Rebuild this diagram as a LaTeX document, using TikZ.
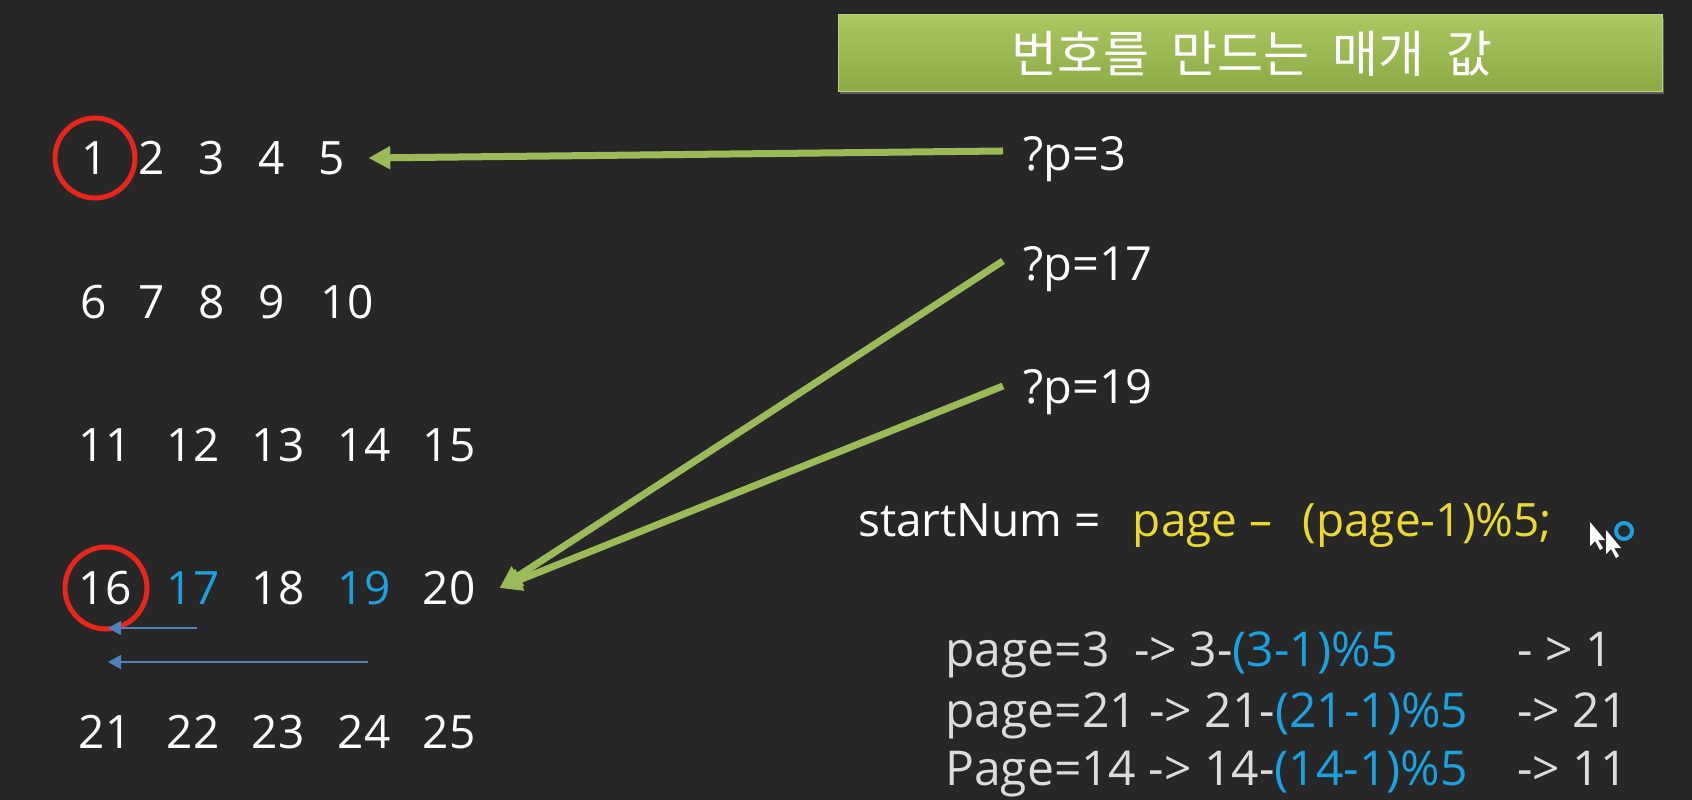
\documentclass[tikz,border=0pt]{standalone}
\usepackage{fontspec}
\setmainfont{Open Sans}
\newfontfamily\krfont{Noto Sans CJK KR}
\usetikzlibrary{arrows.meta,shadows}

\definecolor{slidebg}{HTML}{272727}
\definecolor{olive}{HTML}{9BBB59}
\definecolor{olivetop}{HTML}{AAC761}
\definecolor{olivebot}{HTML}{8CAB44}
\definecolor{numblue}{HTML}{1BA1DF}
\definecolor{codeyellow}{HTML}{EAD92E}
\definecolor{ringred}{HTML}{E8261C}
\definecolor{arrowblue}{HTML}{4F81BD}
\definecolor{lightgray}{HTML}{DCDCDC}

\tikzset{
  num/.style={text=white, inner sep=0pt, font=\fontsize{46}{50}\selectfont},
  label/.style={text=white, inner sep=0pt, anchor=base west, text depth=0pt,
    font=\fontsize{47}{50}\selectfont},
  codeline/.style={text=lightgray, inner sep=0pt, anchor=base west,
    font=\fontsize{48}{52}\selectfont},
  greenarrow/.style={draw=olive, line width=7pt, -{Triangle[length=22pt,width=22pt]}},
  bluearrow/.style={draw=arrowblue, line width=1.5pt, -{Triangle[length=13pt,width=14pt]}},
  redring/.style={draw=ringred, line width=5pt},
  titlebox/.style={top color=olivetop, bottom color=olivebot, draw=olivetop!80!white,
    line width=1pt, minimum width=824pt, minimum height=76pt,
    drop shadow={opacity=0.6, shadow xshift=2pt, shadow yshift=-3pt}}
}

\begin{document}
\begin{tikzpicture}[x=1pt, y=-1pt]
  \fill[slidebg] (0,0) rectangle (1692,800);
  \useasboundingbox (0,0) rectangle (1692,800);

  \node[titlebox] (title) at (1250,53) {};
  \node[text=white, font=\krfont\fontsize{50}{54}\selectfont] (titletext) at (1252,54)
    {번호를\hspace{0.45em}만드는\hspace{0.45em}매개\hspace{0.45em}값};

  % number grid
  \foreach \n/\x in {1/95, 2/152, 3/212, 4/272, 5/332}
    \node[num] (n\n) at (\x,158) {\n};
  \foreach \n/\x in {6/94, 7/152, 8/212, 9/272, 10/347}
    \node[num] (n\n) at (\x,302) {\n};
  \foreach \n/\x in {11/105, 12/193, 13/278, 14/364, 15/449}
    \node[num] (n\n) at (\x,445) {\n};
  \node[num] (n16) at (105,588) {16};
  \node[num, text=numblue] (n17) at (193,588) {17};
  \node[num] (n18) at (278,588) {18};
  \node[num, text=numblue] (n19) at (364,588) {19};
  \node[num] (n20) at (449,588) {20};
  \foreach \n/\x in {21/105, 22/193, 23/278, 24/364, 25/449}
    \node[num] (n\n) at (\x,732) {\n};

  \draw[redring] (n1.center) circle[radius=40pt];
  \draw[redring] ([xshift=1pt]n16.center) circle[radius=41pt];

  % query labels
  \node[label] (p3) at (1023,170) {?p=3};
  \node[label] (p17) at (1023,280) {?p=17};
  \node[label] (p19) at (1023,403) {?p=19};

  \draw[greenarrow] ([xshift=-20pt,yshift=2pt]p3.west) -- ([xshift=23pt]n5.east);
  \draw[greenarrow] ([xshift=-20pt,yshift=2pt]p17.west) -- ([xshift=24pt]n20.east);
  \draw[greenarrow] ([xshift=-20pt]p19.west) -- ([xshift=24pt]n20.east);

  \draw[bluearrow] ([xshift=4pt,yshift=-40pt]n17.center) -- ([xshift=3pt,yshift=-40pt]n16.center);
  \draw[bluearrow] ([xshift=4pt,yshift=-74pt]n19.center) -- ([xshift=3pt,yshift=-74pt]n16.center);

  % formula
  \node[label, font=\fontsize{46}{50}\selectfont] (formula) at (858,536)
    {startNum =\ \ \hspace{8pt}\textcolor{codeyellow}{page --\hspace{18pt} (page-1)\%5;}};

  \node[codeline] (l1) at (945,666) {page=3\ \ -> 3-\textcolor{numblue}{(3-1)\%5}};
  \node[codeline] (l2) at (945,727) {page=21 -> 21-\textcolor{numblue}{(21-1)\%5}};
  \node[codeline] (l3) at (945,785) {Page=14 -> 14-\textcolor{numblue}{(14-1)\%5}};
  \node[codeline] (r1) at (1517,666) {- > 1};
  \node[codeline] (r2) at (1517,727) {-> 21};
  \node[codeline] (r3) at (1517,785) {-> 11};

  % mouse pointers
  \foreach \cx/\cy in {1590/522, 1606/530}
    \fill[white] (\cx,\cy) -- ++(0,24) -- ++(5,-5) -- ++(5,9) -- ++(3,-2)
      -- ++(-5,-8) -- ++(7,0) -- cycle;
  \draw[numblue, line width=4pt] (1624,531) circle[radius=8pt];
\end{tikzpicture}
\end{document}
